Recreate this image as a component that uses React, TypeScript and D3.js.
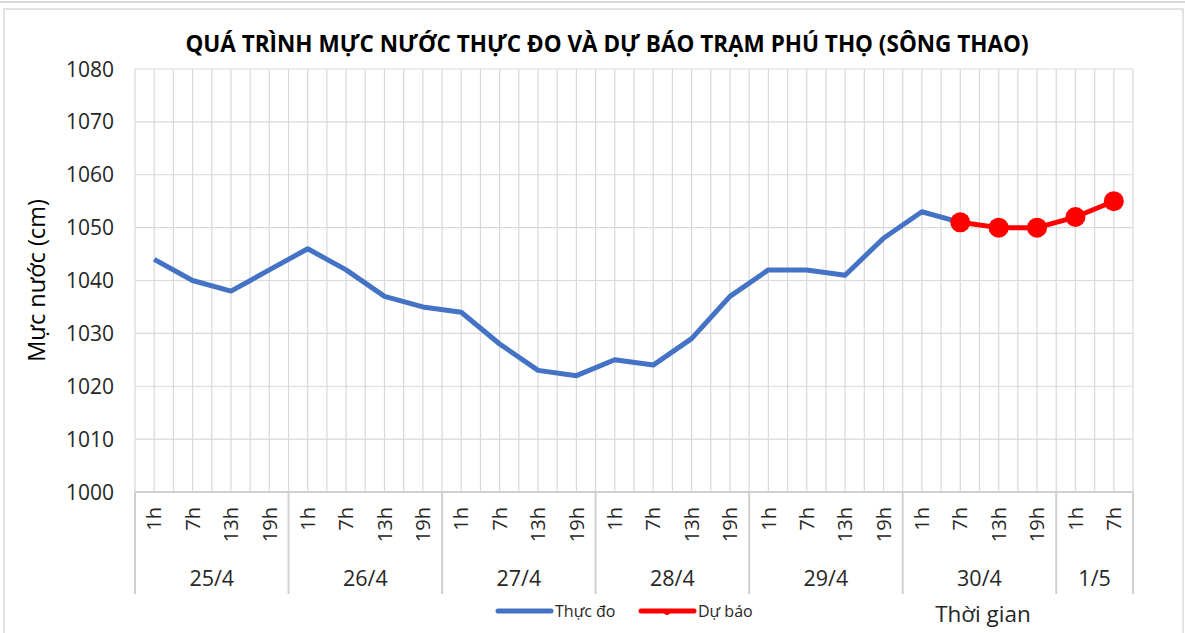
import * as d3 from "d3";

const days = ["25/4", "26/4", "27/4", "28/4", "29/4", "30/4", "1/5"];
const hoursPerDay = [
  ["1h", "7h", "13h", "19h"],
  ["1h", "7h", "13h", "19h"],
  ["1h", "7h", "13h", "19h"],
  ["1h", "7h", "13h", "19h"],
  ["1h", "7h", "13h", "19h"],
  ["1h", "7h", "13h", "19h"],
  ["1h", "7h"],
];
// observed water level (cm), index = category position
const observed = [
  1044, 1040, 1038, 1042, 1046, 1042, 1037, 1035, 1034, 1028, 1023, 1022,
  1025, 1024, 1029, 1037, 1042, 1042, 1041, 1048, 1053, 1051,
];
// forecast starts at 30/4 7h
const forecastStart = 21;
const forecast = [1051, 1050, 1050, 1052, 1055];
const yTicks = [1000, 1010, 1020, 1030, 1040, 1050, 1060, 1070, 1080];

const W = 1185;
const H = 633;
const font = "'Open Sans', 'Noto Sans', sans-serif";

export default function App() {
  const left = 135;
  const right = 1133;
  const top = 69;
  const bottom = 492;

  const cats: { day: number; label: string; key: string }[] = [];
  hoursPerDay.forEach((hs, d) =>
    hs.forEach((h) => cats.push({ day: d, label: h, key: `${d}-${h}` }))
  );

  const x = d3
    .scaleBand<string>()
    .domain(cats.map((c) => c.key))
    .range([left, right]);
  const bw = x.bandwidth();
  const cx = (i: number) => (x(cats[i].key) as number) + bw / 2;
  const y = d3.scaleLinear().domain([1000, 1080]).range([bottom, top]);

  const line = d3
    .line<number>()
    .x((_, i) => cx(i))
    .y((d) => y(d));
  const fLine = d3
    .line<number>()
    .x((_, i) => cx(forecastStart + i))
    .y((d) => y(d));

  // vertical gridlines at every half category
  const vLines: number[] = [];
  for (let k = 0; k <= cats.length * 2; k++) vLines.push(left + (k * bw) / 2);

  // day group boundaries
  const bounds: number[] = [left];
  let acc = 0;
  hoursPerDay.forEach((hs) => {
    acc += hs.length;
    bounds.push(left + acc * bw);
  });

  return (
    <svg width={W} height={H} style={{ position: "absolute", left: 0, top: 0 }}>
      <rect x={0} y={0} width={W} height={H} fill="#fff" />
      <line x1={0} x2={W} y1={2} y2={2} stroke="#d9d9d9" strokeWidth={2} />
      <rect x={4} y={9} width={W - 6} height={H - 8} fill="none" stroke="#d9d9d9" strokeWidth={1.5} />

      <text
        x={607}
        y={52}
        textAnchor="middle"
        fontFamily={font}
        fontWeight="bold"
        fontSize={22.5}
        fill="#000"
      >
        QUÁ TRÌNH MỰC NƯỚC THỰC ĐO VÀ DỰ BÁO TRẠM PHÚ THỌ (SÔNG THAO)
      </text>

      {vLines.map((v, k) => (
        <line key={"v" + k} x1={v} x2={v} y1={top} y2={bottom} stroke="#d9d9d9" strokeWidth={1.2} />
      ))}
      {yTicks.map((t) => (
        <g key={t}>
          <line x1={left} x2={right} y1={y(t)} y2={y(t)} stroke="#d9d9d9" strokeWidth={1.2} />
          <text
            x={114}
            y={y(t)}
            dy="0.36em"
            textAnchor="end"
            fontFamily={font}
            fontSize={21}
            fill="#262626"
          >
            {t}
          </text>
        </g>
      ))}
      <line x1={left} x2={right} y1={bottom} y2={bottom} stroke="#d0d0d0" strokeWidth={2} />

      {bounds.map((b, k) => (
        <line key={"b" + k} x1={b} x2={b} y1={bottom} y2={594} stroke="#d0d0d0" strokeWidth={2} />
      ))}

      {cats.map((c, i) => (
        <text
          key={"h" + i}
          transform={`translate(${cx(i)},${507}) rotate(-90)`}
          textAnchor="end"
          dy="0.36em"
          fontFamily={font}
          fontSize={20}
          fill="#262626"
        >
          {c.label}
        </text>
      ))}

      {days.map((d, k) => (
        <text
          key={d}
          x={(bounds[k] + bounds[k + 1]) / 2}
          y={586}
          textAnchor="middle"
          fontFamily={font}
          fontSize={21.5}
          fill="#262626"
        >
          {d}
        </text>
      ))}

      <text
        transform={`translate(45,${(top + bottom) / 2}) rotate(-90)`}
        textAnchor="middle"
        fontFamily={font}
        fontSize={23.5}
        fill="#000"
      >
        Mực nước (cm)
      </text>
      <text x={983} y={622} textAnchor="middle" fontFamily={font} fontSize={22.5} fill="#262626">
        Thời gian
      </text>

      <path d={line(observed) || ""} fill="none" stroke="#4472C4" strokeWidth={5} strokeLinejoin="round" />
      <path d={fLine(forecast) || ""} fill="none" stroke="#FF0000" strokeWidth={5} strokeLinejoin="round" />
      {forecast.map((v, i) => (
        <circle key={"f" + i} cx={cx(forecastStart + i)} cy={y(v)} r={10} fill="#FF0000" />
      ))}

      <g fontFamily={font} fontSize={16} fill="#262626">
        <line x1={498} x2={551} y1={611} y2={611} stroke="#4472C4" strokeWidth={5} strokeLinecap="round" />
        <text x={555} y={617}>Thực đo</text>
        <line x1={641} x2={694} y1={611} y2={611} stroke="#FF0000" strokeWidth={5} strokeLinecap="round" />
        <circle cx={667} cy={612} r={3} fill="#FF0000" />
        <text x={698} y={617}>Dự báo</text>
      </g>
    </svg>
  );
}
